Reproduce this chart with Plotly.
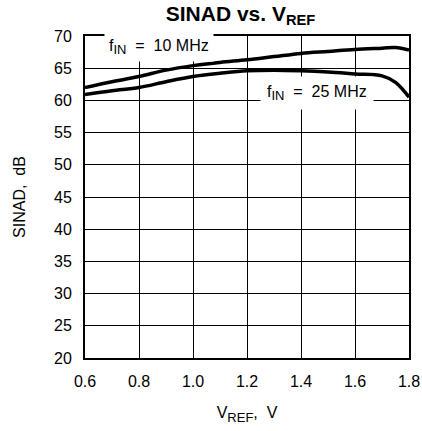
import plotly.graph_objects as go

# SINAD vs VREF
vref = [0.6, 0.7, 0.8, 0.9, 1.0, 1.1, 1.2, 1.3, 1.4, 1.5, 1.6, 1.7, 1.75, 1.8]
sinad_10mhz = [62.0, 62.9, 63.7, 64.7, 65.4, 65.9, 66.3, 66.8, 67.3, 67.6, 67.9, 68.1, 68.2, 67.8]
sinad_25mhz = [60.9, 61.5, 62.0, 62.9, 63.7, 64.2, 64.6, 64.7, 64.6, 64.4, 64.1, 63.8, 62.8, 60.5]

NARROW = "Liberation Sans Narrow, Liberation Sans, sans-serif"
FONT = "Liberation Sans, Arial, sans-serif"
SUB = "<sub><span style='font-size:13px'>%s</span></sub>"

fig = go.Figure()
for y in (sinad_10mhz, sinad_25mhz):
    fig.add_trace(go.Scatter(x=vref, y=y, mode="lines",
                             line=dict(color="black", width=3.5, shape="spline"),
                             showlegend=False, hoverinfo="skip"))

lab_font = dict(family=FONT, size=16, color="black")
fig.add_annotation(x=0.874, y=68.3, text="f" + SUB % "IN" + "  =  10 MHz", showarrow=False,
                   bgcolor="white", font=lab_font, borderpad=4)
fig.add_annotation(x=1.46, y=61.2, text="f" + SUB % "IN" + "  =  25 MHz", showarrow=False,
                   bgcolor="white", font=lab_font, borderpad=6)

axis_common = dict(showgrid=True, gridcolor="black", gridwidth=1, showline=True,
                   linecolor="black", linewidth=2, mirror=True, ticks="",
                   zeroline=False, automargin=False,
                   tickfont=dict(family=NARROW, size=16, color="black"))

fig.update_xaxes(range=[0.6, 1.8], dtick=0.2, tickformat=".1f", ticklabelstandoff=8,
                 title=dict(text="V" + SUB % "REF" + ",  V",
                            font=dict(family=NARROW, size=16, color="black"), standoff=18),
                 **axis_common)
fig.update_yaxes(range=[20, 70], dtick=5, ticklabelstandoff=8,
                 title=dict(text="SINAD,  dB", font=dict(family=FONT, size=16, color="black"),
                            standoff=24),
                 **axis_common)

fig.update_layout(
    width=422, height=431,
    title=dict(text="<b>SINAD vs. V<sub>REF</sub></b>", x=0.57, xanchor="center",
               y=0.986, yanchor="top",
               font=dict(family=FONT, size=21, color="black")),
    margin=dict(l=85, r=13, t=36, b=73),
    paper_bgcolor="white", plot_bgcolor="white",
)

# page body has an 8px default margin; drop it so the 422x431 figure fills the window
fig.write_html("out.html", config={"displayModeBar": False},
               post_script="document.body.style.margin='0';")
